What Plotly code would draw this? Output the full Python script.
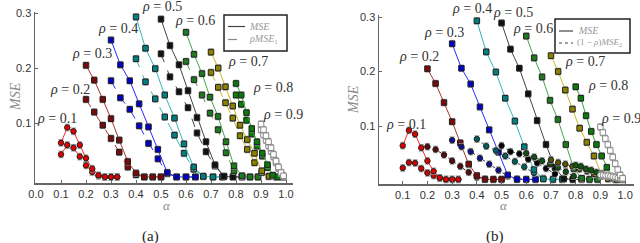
import plotly.graph_objects as go

# ---------------- data ----------------
RHOS = [0.1, 0.2, 0.3, 0.4, 0.5, 0.6, 0.7, 0.8, 0.9]
RHO_LABELS = ["0.1", "0.2", "0.3", "0.4", "0.5", "0.6", "0.7", "0.8", "0.9"]

ALPHA_01 = [0.1, 0.125, 0.15, 0.175, 0.2, 0.225, 0.25, 0.275, 0.3, 0.325]
ALPHA_02 = [0.2, 0.233, 0.267, 0.3, 0.333, 0.367, 0.4, 0.433, 0.467, 0.5]
ALPHA_03 = [0.3, 0.3375, 0.375, 0.4125, 0.45, 0.4875, 0.525, 0.5625, 0.6, 0.6375]
ALPHA_04 = [0.4, 0.438, 0.477, 0.515, 0.554, 0.592, 0.631, 0.669, 0.708, 0.746]
ALPHA_05 = [0.5, 0.536, 0.572, 0.608, 0.644, 0.68, 0.716, 0.752, 0.788, 0.824]
ALPHA_06 = [0.6, 0.632, 0.664, 0.696, 0.728, 0.76, 0.792, 0.824, 0.856, 0.888]
ALPHA_07 = [0.7, 0.729, 0.758, 0.787, 0.816, 0.845, 0.874, 0.903, 0.932, 0.961]
ALPHA_08 = [0.8, 0.821, 0.842, 0.863, 0.884, 0.905, 0.926, 0.947, 0.968, 0.989]
ALPHA_09 = [0.9, 0.91, 0.92, 0.93, 0.94, 0.95, 0.96, 0.97, 0.98, 0.99]

# MSE (solid, both panels)
MSE_01 = [0.064, 0.092, 0.085, 0.060, 0.036, 0.017, 0.005, 0.002, 0.002, 0.002]
MSE_02 = [0.205, 0.178, 0.143, 0.108, 0.069, 0.030, 0.009, 0.002, 0.002, 0.002]
MSE_03 = [0.251, 0.206, 0.177, 0.135, 0.093, 0.052, 0.010, 0.002, 0.002, 0.002]
MSE_04 = [0.293, 0.236, 0.199, 0.151, 0.109, 0.062, 0.020, 0.003, 0.002, 0.002]
MSE_05 = [0.289, 0.241, 0.206, 0.159, 0.110, 0.066, 0.024, 0.003, 0.002, 0.002]
MSE_06 = [0.265, 0.225, 0.190, 0.147, 0.112, 0.066, 0.022, 0.004, 0.002, 0.002]
MSE_07 = [0.229, 0.200, 0.166, 0.131, 0.096, 0.070, 0.045, 0.013, 0.003, 0.002]
MSE_08 = [0.172, 0.151, 0.119, 0.090, 0.066, 0.045, 0.024, 0.005, 0.002, 0.002]
MSE_09 = [0.098, 0.088, 0.077, 0.066, 0.055, 0.043, 0.031, 0.020, 0.010, 0.004]

# rho * MSE_1 (dashed, panel a)
RMSE1_01 = [0.043, 0.060, 0.055, 0.039, 0.023, 0.011, 0.004, 0.002, 0.002, 0.002]
RMSE1_02 = [0.143, 0.120, 0.096, 0.072, 0.047, 0.020, 0.006, 0.002, 0.002, 0.002]
RMSE1_03 = [0.177, 0.146, 0.125, 0.095, 0.063, 0.035, 0.008, 0.002, 0.002, 0.002]
RMSE1_04 = [0.217, 0.175, 0.144, 0.111, 0.078, 0.045, 0.016, 0.003, 0.002, 0.002]
RMSE1_05 = [0.226, 0.184, 0.157, 0.128, 0.082, 0.048, 0.022, 0.003, 0.002, 0.002]
RMSE1_06 = [0.212, 0.179, 0.151, 0.118, 0.088, 0.046, 0.013, 0.003, 0.002, 0.002]
RMSE1_07 = [0.192, 0.165, 0.137, 0.109, 0.077, 0.052, 0.028, 0.010, 0.003, 0.002]
RMSE1_08 = [0.151, 0.134, 0.105, 0.080, 0.058, 0.040, 0.019, 0.004, 0.002, 0.002]
RMSE1_09 = [0.088, 0.079, 0.069, 0.059, 0.049, 0.039, 0.028, 0.018, 0.009, 0.003]

# (1 - rho) * MSE_2 (dotted, panel b)
RMSE2_01 = [0.023, 0.033, 0.032, 0.022, 0.014, 0.009, 0.004, 0.002, 0.002, 0.002]
RMSE2_02 = [0.062, 0.057, 0.047, 0.036, 0.026, 0.015, 0.006, 0.003, 0.002, 0.002]
RMSE2_03 = [0.074, 0.062, 0.053, 0.041, 0.030, 0.019, 0.008, 0.003, 0.002, 0.002]
RMSE2_04 = [0.076, 0.063, 0.055, 0.045, 0.035, 0.025, 0.014, 0.004, 0.002, 0.002]
RMSE2_05 = [0.064, 0.053, 0.049, 0.039, 0.032, 0.022, 0.012, 0.004, 0.002, 0.002]
RMSE2_06 = [0.050, 0.043, 0.036, 0.030, 0.024, 0.016, 0.008, 0.003, 0.002, 0.002]
RMSE2_07 = [0.038, 0.033, 0.030, 0.026, 0.021, 0.017, 0.012, 0.008, 0.004, 0.002]
RMSE2_08 = [0.028, 0.026, 0.021, 0.019, 0.015, 0.012, 0.008, 0.004, 0.002, 0.002]
RMSE2_09 = [0.010, 0.010, 0.009, 0.009, 0.008, 0.007, 0.006, 0.005, 0.004, 0.003]

ERR = 0.006  # error-bar half height

X_TICKS = [0.0, 0.1, 0.2, 0.3, 0.4, 0.5, 0.6, 0.7, 0.8, 0.9, 1.0]
X_TICK_TEXT = ["0.0", "0.1", "0.2", "0.3", "0.4", "0.5", "0.6", "0.7", "0.8", "0.9", "1.0"]
Y_TICKS = [0.1, 0.2, 0.3]
Y_TICK_TEXT = ["0.1", "0.2", "0.3"]

ALPHAS = [ALPHA_01, ALPHA_02, ALPHA_03, ALPHA_04, ALPHA_05, ALPHA_06, ALPHA_07, ALPHA_08, ALPHA_09]
MSES = [MSE_01, MSE_02, MSE_03, MSE_04, MSE_05, MSE_06, MSE_07, MSE_08, MSE_09]
RMSE1S = [RMSE1_01, RMSE1_02, RMSE1_03, RMSE1_04, RMSE1_05, RMSE1_06, RMSE1_07, RMSE1_08, RMSE1_09]
RMSE2S = [RMSE2_01, RMSE2_02, RMSE2_03, RMSE2_04, RMSE2_05, RMSE2_06, RMSE2_07, RMSE2_08, RMSE2_09]

# ---------------- styles ----------------
LINE_COL = ["#ff2a2a", "#a8352c", "#2a2aff", "#33b8b2", "#444444", "#45a545", "#c9b92a", "#35a535", "#b8b8b8"]
MARK_COL = ["#e00000", "#7a0a0a", "#0000c8", "#008080", "#111111", "#1e7a1e", "#8c8200", "#0a7a0a", "#ffffff"]
DOT_MARK = ["#d00000", "#5a0a0a", "#101090", "#005f5f", "#000000", "#134d13", "#5a5400", "#0a5a0a", "#ffffff"]
DOT_LINE = ["#e01010", "#5a1010", "#202080", "#106060", "#222222", "#224d22", "#5a5410", "#1a5a1a", "#aaaaaa"]

W, H = 640, 243


def px(x):
    return x / W


def py(y):
    return 1 - y / H


fig = go.Figure()


def add_series(xs, ys, xa, ya, lcol, mcol, dash, symbol, edge):
    fig.add_trace(go.Scatter(
        x=xs, y=ys, xaxis=xa, yaxis=ya, mode="lines+markers",
        line=dict(color=lcol, width=1, dash=dash),
        marker=dict(symbol=symbol, size=5.5, color=mcol, line=dict(color=edge, width=1)),
        error_y=dict(type="constant", value=ERR, color="#9a9a9a", thickness=1, width=2.5),
        showlegend=False, hoverinfo="skip",
    ))


for i in range(len(RHOS)):
    sym = "circle" if i == 0 else "square"
    edge = "#888888" if i == 8 else "#222222"
    # panel (a)
    add_series(ALPHAS[i], RMSE1S[i], "x", "y", LINE_COL[i], MARK_COL[i], "dash", sym, edge)
    add_series(ALPHAS[i], MSES[i], "x", "y", LINE_COL[i], MARK_COL[i], "solid", sym, edge)
    # panel (b)
    add_series(ALPHAS[i], RMSE2S[i], "x2", "y2", DOT_LINE[i], DOT_MARK[i], "dot", "circle", edge)
    add_series(ALPHAS[i], MSES[i], "x2", "y2", LINE_COL[i], MARK_COL[i], "solid", sym, edge)

tickfont = dict(family="Liberation Sans", size=11, color="#333333")
axis_common = dict(showline=True, linecolor="#666666", linewidth=1.5, showgrid=False,
                   zeroline=False, ticks="inside", ticklen=3, tickcolor="#666666",
                   tickfont=tickfont, automargin=False, ticklabeloverflow="allow")

fig.update_layout(
    width=W, height=H, autosize=False,
    margin=dict(l=0, r=0, t=0, b=0, autoexpand=False),
    paper_bgcolor="white", plot_bgcolor="white",
    xaxis=dict(domain=[px(35), px(293)], range=[-0.004, 1.028], anchor="y",
               tickvals=X_TICKS, ticktext=X_TICK_TEXT, **axis_common),
    yaxis=dict(domain=[py(183), py(12)], range=[-0.009, 0.302], anchor="x",
               tickvals=Y_TICKS, ticktext=Y_TICK_TEXT, **axis_common),
    xaxis2=dict(domain=[px(379), px(634)], range=[0.004, 1.036], anchor="y2",
                tickvals=X_TICKS, ticktext=X_TICK_TEXT, **axis_common),
    yaxis2=dict(domain=[py(184), py(15)], range=[-0.0064, 0.3037], anchor="x2",
                tickvals=Y_TICKS, ticktext=Y_TICK_TEXT, **axis_common),
)

serif = "Liberation Serif"
ann = []


def note(x, y, text, font, xanchor="center", **kw):
    ann.append(dict(x=px(x), y=py(y), xref="paper", yref="paper", text=text, showarrow=False,
                    xanchor=xanchor, yanchor="middle", font=font, **kw))


# rho labels (pixel centres)
LAB_A = [(57, 118), (70, 89), (92, 53), (118, 28), (162, 7), (195, 21), (248, 61), (273, 87), (283, 115)]
LAB_B = [(406, 124), (419, 56), (444, 33), (472, 9), (513, 12), (533, 28), (585, 62), (608, 85), (621, 118)]
for (lx, ly), t in zip(LAB_A + LAB_B, RHO_LABELS + RHO_LABELS):
    note(lx, ly, "<i>ρ</i> = " + t, dict(family=serif, size=14, color="#333333"))

# axis titles and panel captions
for xx, yy in [(15, 97), (353, 100)]:
    note(xx, yy, "<i>MSE</i>", dict(family=serif, size=14, color="#8a8a8a"), textangle=-90)
for xx in [167, 504]:
    note(xx, 205, "<i>α</i>", dict(family=serif, size=13, color="#8a8a8a"))
note(150, 236, "(a)", dict(family=serif, size=15, color="#222222"))
note(495, 236, "(b)", dict(family=serif, size=15, color="#222222"))

# legends (drawn)
shapes = []
legfont = dict(family=serif, size=10, color="#999999")
# left legend
shapes.append(dict(type="rect", xref="paper", yref="paper", x0=px(224), x1=px(287), y0=py(51), y1=py(15),
                   line=dict(color="#222222", width=1.5), fillcolor="white", layer="above"))
shapes.append(dict(type="line", xref="paper", yref="paper", x0=px(228), x1=px(245), y0=py(26.5), y1=py(26.5),
                   line=dict(color="#444444", width=1.2), layer="above"))
shapes.append(dict(type="line", xref="paper", yref="paper", x0=px(228), x1=px(245), y0=py(39.5), y1=py(39.5),
                   line=dict(color="#888888", width=1.2, dash="dash"), layer="above"))
note(247, 26.5, "<i>MSE</i>", legfont, xanchor="left")
note(247, 39.5, "<i>ρMSE</i><sub>1</sub>", legfont, xanchor="left")
# right legend
shapes.append(dict(type="rect", xref="paper", yref="paper", x0=px(555), x1=px(630), y0=py(53), y1=py(19),
                   line=dict(color="#222222", width=1.5), fillcolor="white", layer="above"))
shapes.append(dict(type="line", xref="paper", yref="paper", x0=px(559), x1=px(573), y0=py(31), y1=py(31),
                   line=dict(color="#444444", width=1.2), layer="above"))
shapes.append(dict(type="line", xref="paper", yref="paper", x0=px(559), x1=px(573), y0=py(43), y1=py(43),
                   line=dict(color="#444444", width=1.2, dash="dot"), layer="above"))
note(576, 31, "<i>MSE</i>", legfont, xanchor="left")
note(575, 43, "(1 − <i>ρ</i>)<i>MSE</i><sub>2</sub>", dict(family=serif, size=9, color="#999999"),
     xanchor="left")

fig.update_layout(annotations=ann, shapes=shapes)
fig.write_html("out.html",
               config={"displayModeBar": False, "staticPlot": True},
               post_script="document.body.style.margin='0px';document.body.style.overflow='hidden';")
